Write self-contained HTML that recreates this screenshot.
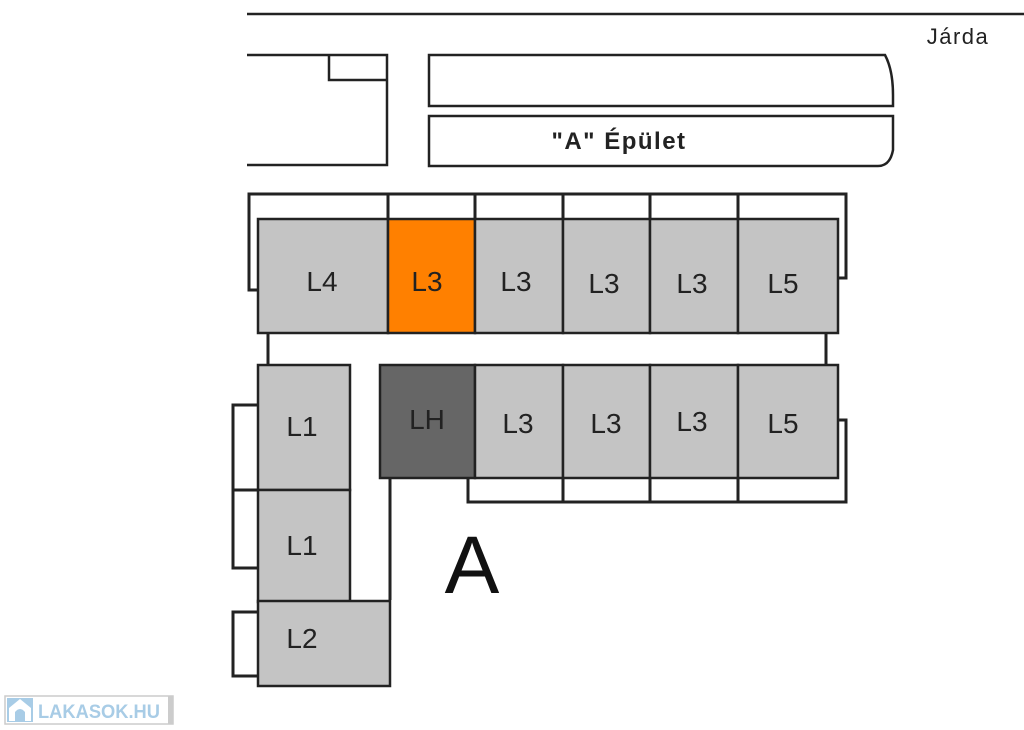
<!DOCTYPE html>
<html><head><meta charset="utf-8"><style>
html,body{margin:0;padding:0;background:#fff;width:1024px;height:730px;overflow:hidden}
svg text{font-family:"Liberation Sans",sans-serif}
</style></head><body>
<svg width="1024" height="730" viewBox="0 0 1024 730" xmlns="http://www.w3.org/2000/svg">
<g fill="none" stroke="#222" stroke-width="2.5">
<line x1="247" y1="14" x2="1024" y2="14"/>
<polyline points="247,55 387,55 387,165 247,165"/>
<polyline points="329,55 329,80 387,80"/>
<path d="M429,55 H885 Q893,70 893,95 V106 H429 Z"/>
<path d="M429,116 H893 V150 Q890,166 878,166 H429 Z"/>
</g>
<text x="958" y="44" font-size="22" text-anchor="middle" fill="#222" letter-spacing="1.5">Járda</text>
<text x="619" y="149" font-size="24" text-anchor="middle" fill="#222" font-weight="bold" letter-spacing="1.5">"A" Épület</text>

<g fill="none" stroke="#222" stroke-width="3">
<polyline points="258,290 249,290 249,194 846,194 846,278 838,278"/>
<line x1="388" y1="194" x2="388" y2="219"/>
<line x1="475" y1="194" x2="475" y2="219"/>
<line x1="563" y1="194" x2="563" y2="219"/>
<line x1="650" y1="194" x2="650" y2="219"/>
<line x1="738" y1="194" x2="738" y2="219"/>
<line x1="268" y1="333" x2="268" y2="365"/>
<line x1="826" y1="333" x2="826" y2="365"/>
<polyline points="838,420 846,420 846,502 468,502 468,478"/>
<line x1="563" y1="478" x2="563" y2="502"/>
<line x1="650" y1="478" x2="650" y2="502"/>
<line x1="738" y1="478" x2="738" y2="502"/>
<line x1="390" y1="478" x2="390" y2="600"/>
<polyline points="258,405 233,405 233,568 258,568"/>
<line x1="233" y1="490" x2="258" y2="490"/>
<polyline points="258,612 233,612 233,676 258,676"/>
</g>
<g stroke="#222" stroke-width="2.5">
<rect x="258" y="219" width="130" height="114" fill="#c4c4c4"/>
<rect x="388" y="219" width="87" height="114" fill="#ff8000"/>
<rect x="475" y="219" width="88" height="114" fill="#c4c4c4"/>
<rect x="563" y="219" width="87" height="114" fill="#c4c4c4"/>
<rect x="650" y="219" width="88" height="114" fill="#c4c4c4"/>
<rect x="738" y="219" width="100" height="114" fill="#c4c4c4"/>
<rect x="380" y="365" width="95" height="113" fill="#666"/>
<rect x="475" y="365" width="88" height="113" fill="#c4c4c4"/>
<rect x="563" y="365" width="87" height="113" fill="#c4c4c4"/>
<rect x="650" y="365" width="88" height="113" fill="#c4c4c4"/>
<rect x="738" y="365" width="100" height="113" fill="#c4c4c4"/>
<rect x="258" y="365" width="92" height="125" fill="#c4c4c4"/>
<rect x="258" y="490" width="92" height="112" fill="#c4c4c4"/>
<rect x="258" y="601" width="132" height="85" fill="#c4c4c4"/>
</g>
<g font-size="28" fill="#222" text-anchor="middle">
<text x="322" y="291">L4</text>
<text x="427" y="291">L3</text>
<text x="516" y="291">L3</text>
<text x="604" y="293">L3</text>
<text x="692" y="293">L3</text>
<text x="783" y="293">L5</text>
<text x="427" y="429">LH</text>
<text x="518" y="433">L3</text>
<text x="606" y="433">L3</text>
<text x="692" y="431">L3</text>
<text x="783" y="433">L5</text>
<text x="302" y="436">L1</text>
<text x="302" y="555">L1</text>
<text x="302" y="648">L2</text>
</g>
<text x="472" y="593" font-size="82" text-anchor="middle" fill="#111">A</text>

<rect x="5" y="696" width="168" height="28" fill="#fff" stroke="#ccc" stroke-width="1.5"/>
<rect x="168" y="696" width="5" height="28" fill="#ccc"/>
<rect x="7" y="698" width="26" height="24" fill="#a8cce6"/>
<path d="M9,708 L20,699 L31,708 V721 H9 Z" fill="#fff"/>
<path d="M15,721 V712 Q20,706 25,712 V721 Z" fill="#a8cce6"/>
<text x="38" y="718" font-size="19" font-weight="bold" fill="#a8cce6" textLength="122" lengthAdjust="spacingAndGlyphs">LAKASOK.HU</text>
</svg>
</body></html>
